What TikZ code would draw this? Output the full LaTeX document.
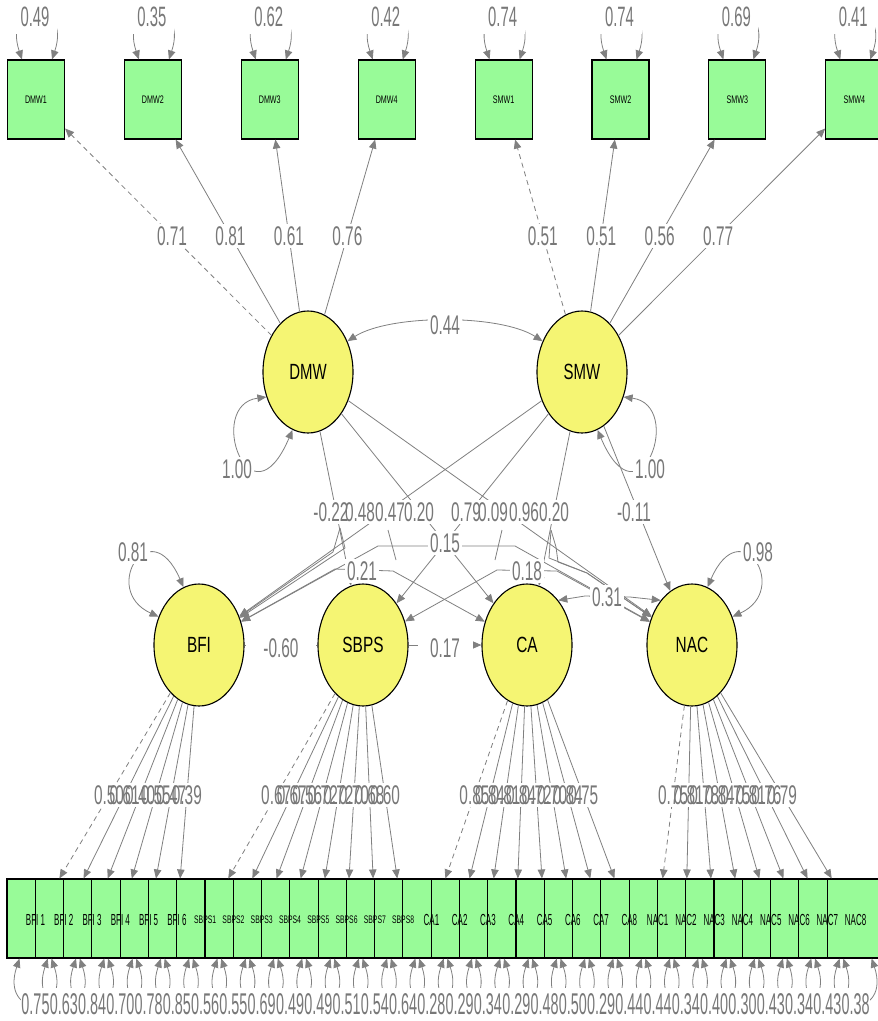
\documentclass[tikz,border=0pt]{standalone}
\usepackage{fontspec}
\setmainfont{Liberation Sans}
\usepackage{graphicx}
\usetikzlibrary{shapes.geometric,arrows.meta,calc}
\definecolor{edgegray}{RGB}{128,128,128}
\definecolor{labgray}{RGB}{120,120,120}
\definecolor{latfill}{RGB}{245,245,115}
\definecolor{manfill}{RGB}{152,251,152}
\newcommand{\hsx}[2]{\scalebox{#1}[1]{#2}}
\begin{document}
\begin{tikzpicture}[x=1pt,y=-1pt,
  >={Triangle[length=9pt,width=7.5pt]},
  lat/.style={ellipse, draw=black, line width=1.1pt, fill=latfill, minimum width=90pt, minimum height=122pt, inner sep=0pt, font=\fontsize{22}{24}\selectfont},
  man/.style={rectangle, draw=black, line width=1.1pt, fill=manfill, minimum width=57pt, minimum height=79pt, inner sep=0pt},
  edg/.style={draw=edgegray, line width=0.8pt, ->},
  dedg/.style={edg, dash pattern=on 5pt off 4pt},
  cov/.style={draw=edgegray, line width=0.8pt, <->},
  seg/.style={draw=edgegray, line width=0.8pt},
  lbg/.style={fill=white, inner sep=2.5pt, font=\fontsize{27}{28}\selectfont},
  ltx/.style={text=labgray, inner sep=2.5pt, font=\fontsize{27}{28}\selectfont},
  rlab/.style={fill=white, text=labgray, inner sep=0pt, font=\fontsize{28}{30}\selectfont, minimum width=44pt, minimum height=36pt},
  blab/.style={fill=white, text=labgray, inner sep=0pt, font=\fontsize{30}{32}\selectfont, minimum width=28.3pt, minimum height=33pt},
  ilab/.style={inner sep=0pt, text=black},
]
\fill[white] (0,0) rectangle (878,1021);
\useasboundingbox (0,0) rectangle (878,1021);

% latent variables
\node[lat] (DMW) at (308,372) {\hsx{0.68}{DMW}};
\node[lat] (SMW) at (582,372) {\hsx{0.68}{SMW}};
\node[lat] (BFI) at (199,645) {\hsx{0.7}{BFI}};
\node[lat] (SBPS) at (363,645) {\hsx{0.7}{SBPS}};
\node[lat] (CA) at (527,645) {\hsx{0.7}{CA}};
\node[lat] (NAC) at (692,645) {\hsx{0.7}{NAC}};

% top indicators
\foreach \nm [count=\i from 0] in {DMW1,DMW2,DMW3,DMW4,SMW1,SMW2,SMW3,SMW4} {
  \node[man,font=\fontsize{11}{12}\selectfont] (\nm) at ({36+116.9*\i},99.5) {\hsx{0.65}{\nm}};
}
% bottom indicators
\foreach \i in {1,...,30} {
  \node[man] (b\i) at ({35.5+28.28*(\i-1)},918.5) {};
}
\foreach \k in {1,...,6} {
  \node[ilab,font=\fontsize{16}{17}\selectfont] (tb\k) at ({35.5+28.28*(\k-1)},920) {\hsx{0.5}{BFI \k}};
}
\foreach \k in {1,...,8} {
  \pgfmathtruncatemacro\j{6+\k}
  \node[ilab,font=\fontsize{11}{12}\selectfont] (tb\j) at ({35.5+28.28*(\j-1)},920) {\hsx{0.62}{SBPS\k}};
}
\foreach \k in {1,...,8} {
  \pgfmathtruncatemacro\j{14+\k}
  \node[ilab,font=\fontsize{16}{17}\selectfont] (tb\j) at ({35.5+28.28*(\j-1)},920) {\hsx{0.5}{CA\k}};
}
\foreach \k in {1,...,8} {
  \pgfmathtruncatemacro\j{22+\k}
  \node[ilab,font=\fontsize{16}{17}\selectfont] (tb\j) at ({35.5+28.28*(\j-1)},920) {\hsx{0.5}{NAC\k}};
}

% top residual loops
\foreach \nm/\v in {DMW1/0.49,DMW2/0.35,DMW3/0.62,DMW4/0.42,SMW1/0.74,SMW2/0.74,SMW3/0.69,SMW4/0.41} {
  \draw[cov] ($(\nm.north)+(-14,0)$) .. controls +(-20,-60) and +(20,-60) .. ($(\nm.north)+(16,0)$);
  \node[rlab] (r\nm) at ($(\nm.north)+(-1,-43)$) {\hsx{0.53}{\v}};
}
% bottom residual loops
\foreach \i in {1,...,30} {
  \draw[cov] ($(b\i.south)+(-16,0)$) .. controls +(-20,60) and +(20,60) .. ($(b\i.south)+(16,0)$);
}
\foreach \v [count=\i] in {0.75,0.63,0.84,0.70,0.78,0.85,0.56,0.55,0.69,0.49,0.49,0.51,0.54,0.64,0.28,0.29,0.34,0.29,0.48,0.50,0.29,0.44,0.44,0.34,0.40,0.30,0.43,0.34,0.43,0.38} {
  \node[blab] (rv\i) at ($(b\i.south)+(0,46)$) {\hsx{0.48}{\v}};
}

% top loadings
\draw[dedg] (DMW) -- (DMW1);
\foreach \nm in {DMW2,DMW3,DMW4} {\draw[edg] (DMW) -- (\nm);}
\draw[dedg] (SMW) -- (SMW1);
\foreach \nm in {SMW2,SMW3,SMW4} {\draw[edg] (SMW) -- (\nm);}
\foreach \f/\nm/\v in {DMW/DMW1/0.71,DMW/DMW2/0.81,DMW/DMW3/0.61,DMW/DMW4/0.76,SMW/SMW1/0.51,SMW/SMW2/0.51,SMW/SMW3/0.56,SMW/SMW4/0.77} {
  \node[lbg,text=labgray] (l\nm) at ($(\f)!0.5!(\nm)$) {\hsx{0.57}{\v}};
}

% bottom loadings
\draw[dedg] (BFI) -- (b1);
\foreach \k in {2,...,6} {\draw[edg] (BFI) -- (b\k);}
\draw[dedg] (SBPS) -- (b7);
\foreach \k in {8,...,14} {\draw[edg] (SBPS) -- (b\k);}
\draw[dedg] (CA) -- (b15);
\foreach \k in {16,...,22} {\draw[edg] (CA) -- (b\k);}
\draw[dedg] (NAC) -- (b23);
\foreach \k in {24,...,30} {\draw[edg] (NAC) -- (b\k);}

% latent variances and covariance
\draw[cov] (DMW.211) .. controls (205,405) and (250,530) .. (DMW.255);
\draw[cov] (SMW.329) .. controls (685,405) and (640,530) .. (SMW.285);
\draw[cov] (DMW.38) .. controls (390,314) and (500,314) .. (SMW.142);
\draw[cov] (BFI.145) .. controls (100,590) and (150,510) .. (BFI.105);
\draw[cov] (NAC.35) .. controls (791,590) and (741,510) .. (NAC.75);

% structural paths
\draw[edg] (DMW) -- (SBPS);
\draw[edg] (DMW) -- (CA);
\draw[edg] (DMW) -- (NAC);
\draw[edg] (SMW) -- (BFI);
\draw[edg] (SMW) -- (SBPS);
\draw[edg] (SMW) -- (CA);
\draw[edg] (SMW) -- (NAC);

% residual covariances
\coordinate (p15a) at (378,546); \coordinate (p15b) at (515,546);
\draw[cov] (BFI) -- (p15a) -- (p15b) -- (NAC);
\coordinate (p21a) at (335,569); \coordinate (p21b) at (393,571);
\draw[cov] (BFI) -- (p21a) -- (p21b) -- (CA);
\coordinate (p18a) at (497,570); \coordinate (p18b) at (557,571);
\draw[cov] (SBPS) -- (p18a) -- (p18b) -- (NAC);
\coordinate (p31a) at (585,596); \coordinate (p31b) at (630,597);
\draw[cov] (CA.55) -- (p31a) -- (p31b) -- (NAC.125);
\draw[seg] (BFI) -- (SBPS);
\draw[edg] (SBPS) -- (CA);

% pivot edges
\coordinate (tL) at (340,528);
\draw[edg] (tL) -- (333,552) -- (BFI);
\draw[edg] (tL) -- (345,548) -- (BFI);
\coordinate (tR) at (551,530);
\coordinate (tRm) at (587,573);
\draw[edg] (tR) -- (549,558) -- (tRm) -- (NAC);
\draw[edg] (tR) -- (556,547) -- (558,562) -- (tRm) -- (NAC);
\coordinate (va1) at (388,530); \coordinate (va2) at (396,560);
\draw[seg] (va1) -- (va2);
\coordinate (vb1) at (502,530); \coordinate (vb2) at (495,560);
\draw[seg] (vb1) -- (vb2);

% labels: backgrounds first, then texts
\node[fill=white, inner sep=0pt, minimum width=70pt, minimum height=26pt] (bg60) at (281,647) {};
\node[fill=white, inner sep=0pt, minimum width=55pt, minimum height=26pt] (bg17) at (445,647) {};
\foreach \x/\y/\v [count=\i] in {331/512/-0.22,360/512/0.48,390/512/0.47,419/512/0.20,466/512/0.79,493/512/0.09,524/512/0.96,554/512/0.20,634/512/-0.11,445/543/0.15,362/571/0.21,527/571/0.18,607/597/0.31,281/648/-0.60,445/648/0.17,445/325/0.44,237/469/1.00,650/469/1.00,133/552/0.81,758/552/0.98} {
  \node[lbg] (mb\i) at (\x,\y) {\phantom{\hsx{0.57}{\v}}};
}
\foreach \f/\k/\v in {BFI/1/0.50,BFI/2/0.61,BFI/3/0.40,BFI/4/0.55,BFI/5/0.47,BFI/6/0.39,SBPS/7/0.67,SBPS/8/0.67,SBPS/9/0.56,SBPS/10/0.72,SBPS/11/0.72,SBPS/12/0.70,SBPS/13/0.68,SBPS/14/0.60,CA/15/0.85,CA/16/0.84,CA/17/0.81,CA/18/0.84,CA/19/0.72,CA/20/0.70,CA/21/0.84,CA/22/0.75,NAC/23/0.75,NAC/24/0.81,NAC/25/0.78,NAC/26/0.84,NAC/27/0.75,NAC/28/0.81,NAC/29/0.76,NAC/30/0.79} {
  \node[lbg] (lb\k) at ($(\f)!0.55!(b\k)$) {\phantom{\hsx{0.57}{\v}}};
}
\foreach \x/\y/\v [count=\i] in {331/512/-0.22,360/512/0.48,390/512/0.47,419/512/0.20,466/512/0.79,493/512/0.09,524/512/0.96,554/512/0.20,634/512/-0.11,445/543/0.15,362/571/0.21,527/571/0.18,607/597/0.31,281/648/-0.60,445/648/0.17,445/325/0.44,237/469/1.00,650/469/1.00,133/552/0.81,758/552/0.98} {
  \node[ltx] (mt\i) at (\x,\y) {\hsx{0.57}{\v}};
}
\foreach \f/\k/\v in {BFI/1/0.50,BFI/2/0.61,BFI/3/0.40,BFI/4/0.55,BFI/5/0.47,BFI/6/0.39,SBPS/7/0.67,SBPS/8/0.67,SBPS/9/0.56,SBPS/10/0.72,SBPS/11/0.72,SBPS/12/0.70,SBPS/13/0.68,SBPS/14/0.60,CA/15/0.85,CA/16/0.84,CA/17/0.81,CA/18/0.84,CA/19/0.72,CA/20/0.70,CA/21/0.84,CA/22/0.75,NAC/23/0.75,NAC/24/0.81,NAC/25/0.78,NAC/26/0.84,NAC/27/0.75,NAC/28/0.81,NAC/29/0.76,NAC/30/0.79} {
  \node[ltx] (lt\k) at ($(\f)!0.55!(b\k)$) {\hsx{0.57}{\v}};
}
\end{tikzpicture}
\end{document}
